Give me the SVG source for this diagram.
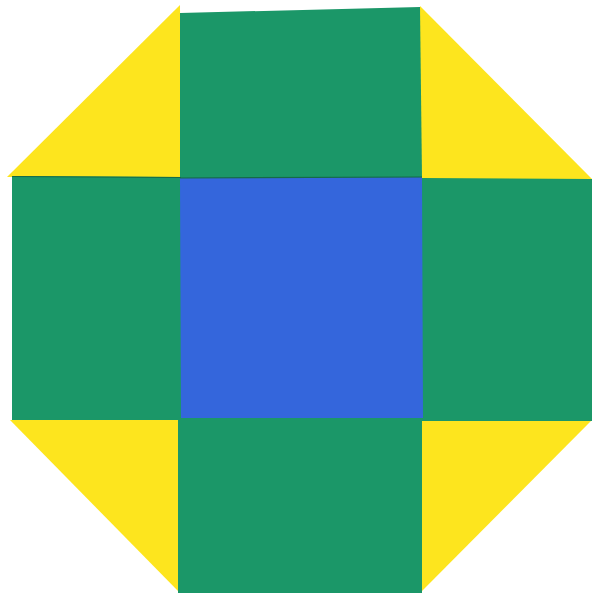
<svg xmlns="http://www.w3.org/2000/svg" width="592" height="593" viewBox="0 0 592 593">
<style>
.y{fill:#fde51e}
.g{fill:#1b9768}
.b{fill:#3466dc}
.e{fill:none;stroke:#156a48;stroke-width:1.2}
</style>
<rect width="592" height="593" fill="#ffffff"/>
<g id="yellow-tl"><polygon class="y" points="180,5 181,177 7,177"/></g>
<g id="yellow-tr"><polygon class="y" points="420,6 420,179 592,179"/></g>
<g id="yellow-bl"><polygon class="y" points="10,420 179,420 179,592"/></g>
<g id="yellow-br"><polygon class="y" points="421,420 592,420 421,592"/></g>
<g id="green-top"><polygon class="g" points="180,13 420,7 422,178 180,178"/></g>
<g id="green-left"><polygon class="g" points="12,176 182,177 183,420 12,420"/><line class="e" x1="12" y1="176.5" x2="181" y2="177.5"/></g>
<g id="green-right"><polygon class="g" points="421,178 592,179 592,421 421,421"/></g>
<g id="green-bottom"><polygon class="g" points="178,418 422,418 422,593 178,593"/></g>
<g id="blue-center"><polygon class="b" points="180,178 422,177 423,418 181,418"/><polyline class="e" points="180,178 422,177" stroke="#1d3f9a"/></g>
</svg>
